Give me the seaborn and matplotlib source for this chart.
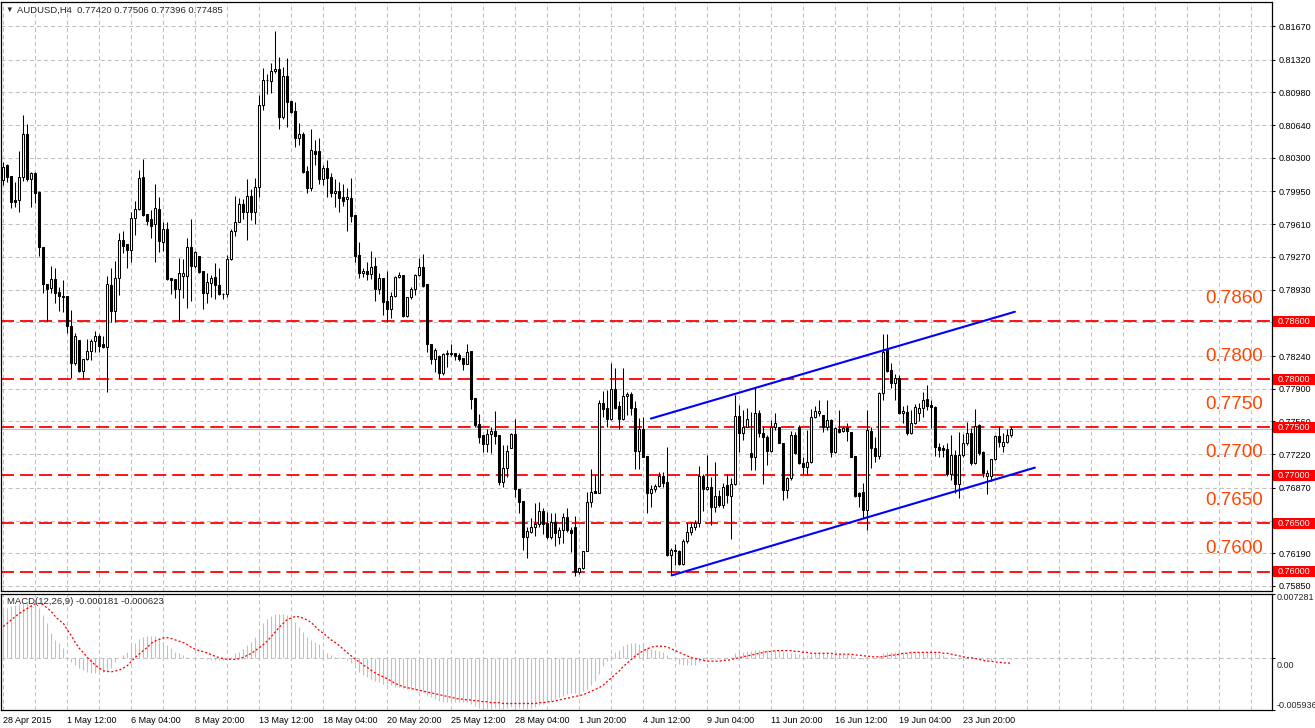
import numpy as np
import matplotlib
matplotlib.use("Agg")
import matplotlib.pyplot as plt
from matplotlib.patches import Rectangle
import seaborn as sns

# AUDUSD H4, one entry per bar, first bar 28 Apr 2015 20:00
opens = [
    0.8007, 0.8023, 0.8011, 0.7986, 0.7986, 0.8010, 0.8055, 0.8008, 0.8014, 0.7994,
    0.7937, 0.7899, 0.7895, 0.7904, 0.7891, 0.7886, 0.7886, 0.7855, 0.7817, 0.7841,
    0.7808, 0.7821, 0.7829, 0.7840, 0.7845, 0.7836, 0.7833, 0.7898, 0.7871, 0.7905,
    0.7945, 0.7940, 0.7934, 0.7967, 0.7977, 0.8010, 0.7972, 0.7966, 0.7961, 0.7977,
    0.7942, 0.7956, 0.7905, 0.7904, 0.7894, 0.7907, 0.7907, 0.7937, 0.7918, 0.7928,
    0.7912, 0.7889, 0.7900, 0.7906, 0.7898, 0.7888, 0.7888, 0.7925, 0.7954, 0.7963,
    0.7982, 0.7974, 0.7990, 0.7974, 0.8000, 0.8085, 0.8111, 0.8110, 0.8120, 0.8122,
    0.8072, 0.8115, 0.8089, 0.8079, 0.8051, 0.8055, 0.8016, 0.7999, 0.8037, 0.8037,
    0.8008, 0.8019, 0.8010, 0.7993, 0.7995, 0.7989, 0.7987, 0.7988, 0.7971, 0.7929,
    0.7910, 0.7912, 0.7909, 0.7918, 0.7894, 0.7905, 0.7881, 0.7873, 0.7886, 0.7906,
    0.7908, 0.7866, 0.7885, 0.7894, 0.7908, 0.7917, 0.7899, 0.7836, 0.7821, 0.7824,
    0.7806, 0.7826, 0.7826, 0.7827, 0.7825, 0.7822, 0.7816, 0.7829, 0.7780, 0.7753,
    0.7742, 0.7733, 0.7743, 0.7746, 0.7742, 0.7693, 0.7708, 0.7728, 0.7743, 0.7686,
    0.7673, 0.7636, 0.7641, 0.7646, 0.7649, 0.7663, 0.7650, 0.7636, 0.7651, 0.7636,
    0.7643, 0.7657, 0.7643, 0.7646, 0.7600, 0.7604, 0.7621, 0.7672, 0.7684, 0.7682,
    0.7775, 0.7770, 0.7759, 0.7790, 0.7772, 0.7759, 0.7782, 0.7785, 0.7770, 0.7725,
    0.7748, 0.7720, 0.7682, 0.7686, 0.7689, 0.7699, 0.7693, 0.7617, 0.7622, 0.7621,
    0.7608, 0.7632, 0.7641, 0.7646, 0.7650, 0.7699, 0.7686, 0.7688, 0.7667, 0.7679,
    0.7669, 0.7690, 0.7679, 0.7691, 0.7762, 0.7744, 0.7750, 0.7723, 0.7719, 0.7765,
    0.7744, 0.7740, 0.7725, 0.7750, 0.7750, 0.7734, 0.7685, 0.7697, 0.7742, 0.7750,
    0.7713, 0.7709, 0.7714, 0.7761, 0.7765, 0.7763, 0.7750, 0.7757, 0.7724, 0.7748,
    0.7746, 0.7750, 0.7745, 0.7720, 0.7682, 0.7683, 0.7664, 0.7746, 0.7728, 0.7720,
    0.7786, 0.7830, 0.7809, 0.7796, 0.7801, 0.7765, 0.7766, 0.7744, 0.7754, 0.7765,
    0.7770, 0.7779, 0.7773, 0.7771, 0.7729, 0.7728, 0.7727, 0.7701, 0.7721, 0.7691,
    0.7721, 0.7734, 0.7744, 0.7713, 0.7752, 0.7724, 0.7699, 0.7699, 0.7717, 0.7741,
    0.7731, 0.7735, 0.77420,
]
highs = [
    0.8026, 0.8024, 0.8011, 0.8005, 0.8037, 0.8074, 0.8065, 0.8015, 0.8015, 0.7995,
    0.7937, 0.7899, 0.7918, 0.7915, 0.7896, 0.7903, 0.7886, 0.7872, 0.7848, 0.7841,
    0.7821, 0.7842, 0.7842, 0.7850, 0.7847, 0.7845, 0.7907, 0.7916, 0.7923, 0.7952,
    0.7954, 0.7940, 0.7974, 0.7985, 0.8017, 0.8029, 0.7972, 0.7976, 0.8003, 0.7989,
    0.7963, 0.7963, 0.7905, 0.7904, 0.7926, 0.7925, 0.7947, 0.7966, 0.7933, 0.7928,
    0.7912, 0.7910, 0.7908, 0.7921, 0.7915, 0.7889, 0.7929, 0.7956, 0.7990, 0.7988,
    0.7987, 0.8008, 0.7998, 0.8009, 0.8095, 0.8123, 0.8117, 0.8129, 0.8162, 0.8135,
    0.8124, 0.8134, 0.8089, 0.8088, 0.8066, 0.8057, 0.8021, 0.8060, 0.8049, 0.8051,
    0.8023, 0.8028, 0.8014, 0.8008, 0.8005, 0.8003, 0.7999, 0.8009, 0.7971, 0.7942,
    0.7915, 0.7922, 0.7933, 0.7927, 0.7910, 0.7905, 0.7912, 0.7891, 0.7907, 0.7911,
    0.7908, 0.7885, 0.7896, 0.7909, 0.7926, 0.7930, 0.7899, 0.7836, 0.7832, 0.7825,
    0.7827, 0.7830, 0.7837, 0.7827, 0.7827, 0.7822, 0.7837, 0.7829, 0.7780, 0.7764,
    0.7742, 0.7748, 0.7750, 0.7767, 0.7742, 0.7732, 0.7732, 0.7744, 0.7759, 0.7686,
    0.7673, 0.7646, 0.7656, 0.7671, 0.7672, 0.7666, 0.7662, 0.7661, 0.7661, 0.7646,
    0.7661, 0.7666, 0.7646, 0.7658, 0.7604, 0.7621, 0.7683, 0.7707, 0.7700, 0.7778,
    0.7788, 0.7789, 0.7817, 0.7812, 0.7777, 0.7812, 0.7787, 0.7787, 0.7777, 0.7760,
    0.7761, 0.7720, 0.7690, 0.7691, 0.7703, 0.7703, 0.7729, 0.7624, 0.7629, 0.7622,
    0.7634, 0.7650, 0.7651, 0.7654, 0.7710, 0.7701, 0.7721, 0.7698, 0.7714, 0.7685,
    0.7692, 0.7701, 0.7697, 0.7783, 0.7773, 0.7768, 0.7770, 0.7766, 0.7791, 0.7768,
    0.7750, 0.7742, 0.7757, 0.7765, 0.7750, 0.7734, 0.7698, 0.7746, 0.7745, 0.7752,
    0.7719, 0.7747, 0.7769, 0.7772, 0.7778, 0.7763, 0.7778, 0.7759, 0.7750, 0.7768,
    0.7751, 0.7754, 0.7745, 0.7720, 0.7683, 0.7692, 0.7768, 0.7750, 0.7740, 0.7787,
    0.7847, 0.7847, 0.7817, 0.7805, 0.7804, 0.7772, 0.7773, 0.7768, 0.7774, 0.7775,
    0.7787, 0.7794, 0.7778, 0.7772, 0.7734, 0.7732, 0.7734, 0.7742, 0.7726, 0.7745,
    0.7743, 0.7755, 0.7749, 0.7769, 0.7753, 0.7725, 0.7706, 0.7717, 0.7742, 0.7750,
    0.7744, 0.7748, 0.77506,
]
lows = [
    0.8002, 0.8005, 0.7978, 0.7979, 0.7974, 0.8006, 0.8006, 0.7979, 0.7983, 0.7928,
    0.7889, 0.7860, 0.7889, 0.7879, 0.7871, 0.7870, 0.7848, 0.7801, 0.7815, 0.7807,
    0.7800, 0.7820, 0.7820, 0.7828, 0.7828, 0.7832, 0.7787, 0.7859, 0.7859, 0.7887,
    0.7931, 0.7915, 0.7922, 0.7950, 0.7976, 0.7970, 0.7960, 0.7947, 0.7922, 0.7932,
    0.7933, 0.7903, 0.7888, 0.7884, 0.7860, 0.7884, 0.7874, 0.7881, 0.7915, 0.7910,
    0.7873, 0.7879, 0.7885, 0.7883, 0.7887, 0.7883, 0.7885, 0.7924, 0.7949, 0.7963,
    0.7966, 0.7945, 0.7965, 0.7961, 0.7989, 0.8080, 0.8096, 0.8097, 0.8118, 0.8060,
    0.8070, 0.8062, 0.8077, 0.8041, 0.8043, 0.8014, 0.7993, 0.7995, 0.8023, 0.8003,
    0.8002, 0.7989, 0.7989, 0.7979, 0.7974, 0.7980, 0.7954, 0.7963, 0.7922, 0.7905,
    0.7906, 0.7903, 0.7904, 0.7881, 0.7888, 0.7867, 0.7859, 0.7864, 0.7885, 0.7905,
    0.7865, 0.7865, 0.7883, 0.7887, 0.7907, 0.7896, 0.7828, 0.7816, 0.7807, 0.7801,
    0.7804, 0.7813, 0.7824, 0.7820, 0.7819, 0.7810, 0.7816, 0.7769, 0.7750, 0.7734,
    0.7724, 0.7724, 0.7723, 0.7733, 0.7690, 0.7688, 0.7698, 0.7728, 0.7677, 0.7661,
    0.7622, 0.7614, 0.7640, 0.7637, 0.7646, 0.7639, 0.7634, 0.7634, 0.7627, 0.7629,
    0.7630, 0.7641, 0.7620, 0.7595, 0.7597, 0.7603, 0.7621, 0.7667, 0.7682, 0.7682,
    0.7761, 0.7750, 0.7757, 0.7769, 0.7748, 0.7757, 0.7763, 0.7763, 0.7707, 0.7707,
    0.7719, 0.7661, 0.7667, 0.7683, 0.7688, 0.7688, 0.7616, 0.7596, 0.7607, 0.7607,
    0.7607, 0.7630, 0.7638, 0.7643, 0.7646, 0.7663, 0.7685, 0.7648, 0.7662, 0.7667,
    0.7666, 0.7671, 0.7634, 0.7690, 0.7724, 0.7737, 0.7750, 0.7706, 0.7706, 0.7740,
    0.7691, 0.7711, 0.7724, 0.7747, 0.7734, 0.7674, 0.7676, 0.7695, 0.7722, 0.7712,
    0.7701, 0.7700, 0.7713, 0.7760, 0.7762, 0.7745, 0.7747, 0.7719, 0.7723, 0.7744,
    0.7745, 0.7736, 0.7719, 0.7677, 0.7667, 0.7656, 0.7643, 0.7708, 0.7714, 0.7717,
    0.7778, 0.7807, 0.7791, 0.7778, 0.7764, 0.7754, 0.7742, 0.7743, 0.7753, 0.7756,
    0.7761, 0.7768, 0.7749, 0.7720, 0.7719, 0.7719, 0.7699, 0.7695, 0.7682, 0.7676,
    0.7719, 0.7732, 0.7711, 0.7712, 0.7721, 0.7698, 0.7681, 0.7694, 0.7716, 0.7729,
    0.7724, 0.7734, 0.77396,
]
closes = [
    0.8020, 0.8010, 0.7984, 0.7984, 0.8010, 0.8055, 0.8008, 0.8014, 0.7993, 0.7937,
    0.7899, 0.7894, 0.7904, 0.7889, 0.7886, 0.7885, 0.7855, 0.7817, 0.7845, 0.7808,
    0.7821, 0.7829, 0.7840, 0.7845, 0.7834, 0.7833, 0.7899, 0.7871, 0.7905, 0.7945,
    0.7938, 0.7934, 0.7967, 0.7977, 0.8009, 0.7971, 0.7964, 0.7959, 0.7978, 0.7944,
    0.7956, 0.7904, 0.7903, 0.7894, 0.7910, 0.7910, 0.7937, 0.7918, 0.7932, 0.7911,
    0.7889, 0.7901, 0.7905, 0.7898, 0.7888, 0.7888, 0.7925, 0.7954, 0.7963, 0.7982,
    0.7974, 0.7990, 0.7974, 0.8000, 0.8085, 0.8111, 0.8111, 0.8120, 0.8122, 0.8072,
    0.8115, 0.8088, 0.8078, 0.8051, 0.8055, 0.8015, 0.7999, 0.8038, 0.8034, 0.8008,
    0.8019, 0.8009, 0.7993, 0.7995, 0.7988, 0.7985, 0.7989, 0.7970, 0.7928, 0.7910,
    0.7912, 0.7909, 0.7917, 0.7894, 0.7905, 0.7880, 0.7873, 0.7886, 0.7906, 0.7908,
    0.7866, 0.7885, 0.7894, 0.7908, 0.7917, 0.7897, 0.7836, 0.7821, 0.7830, 0.7806,
    0.7826, 0.7827, 0.7827, 0.7824, 0.7821, 0.7816, 0.7828, 0.7779, 0.7752, 0.7740,
    0.7733, 0.7743, 0.7746, 0.7741, 0.7693, 0.7708, 0.7725, 0.7743, 0.7686, 0.7672,
    0.7636, 0.7642, 0.7646, 0.7649, 0.7663, 0.7649, 0.7636, 0.7651, 0.7640, 0.7643,
    0.7657, 0.7643, 0.7640, 0.7600, 0.7604, 0.7621, 0.7672, 0.7683, 0.7682, 0.7775,
    0.7769, 0.7759, 0.7790, 0.7770, 0.7759, 0.7782, 0.7785, 0.7770, 0.7725, 0.7748,
    0.7719, 0.7682, 0.7686, 0.7689, 0.7699, 0.7692, 0.7617, 0.7622, 0.7621, 0.7608,
    0.7632, 0.7641, 0.7646, 0.7650, 0.7699, 0.7686, 0.7688, 0.7667, 0.7679, 0.7669,
    0.7688, 0.7680, 0.7691, 0.7762, 0.7744, 0.7750, 0.7759, 0.7719, 0.7765, 0.7744,
    0.7740, 0.7725, 0.7750, 0.7754, 0.7734, 0.7685, 0.7697, 0.7742, 0.7723, 0.7713,
    0.7709, 0.7714, 0.7761, 0.7767, 0.7767, 0.7750, 0.7757, 0.7724, 0.7749, 0.7745,
    0.7749, 0.7746, 0.7719, 0.7679, 0.7679, 0.7664, 0.7747, 0.7728, 0.7720, 0.7786,
    0.7828, 0.7808, 0.7796, 0.7801, 0.7765, 0.7767, 0.7744, 0.7754, 0.7771, 0.7770,
    0.7778, 0.7772, 0.7771, 0.7729, 0.7726, 0.7726, 0.7701, 0.7721, 0.7691, 0.7721,
    0.7734, 0.7744, 0.7713, 0.7751, 0.7723, 0.7702, 0.7702, 0.7717, 0.7741, 0.7735,
    0.7735, 0.7742, 0.77485,
]

# MACD(12,26,9): main (histogram) and signal, one value per bar
macd_main = [
    0.00551, 0.00562, 0.00581, 0.00600, 0.00612, 0.00619, 0.00619, 0.00612, 0.00600, 0.00562,
    0.00486, 0.00391, 0.00277, 0.00201, 0.00163, 0.00106, 0.00011, -0.00046, -0.00084, -0.00122,
    -0.00141, -0.00160, -0.00179, -0.00179, -0.00171, -0.00160, -0.00141, -0.00122, -0.00046, 0.00000,
    0.00030, 0.00068, 0.00144, 0.00163, 0.00209, 0.00239, 0.00247, 0.00247, 0.00247, 0.00220,
    0.00182, 0.00144, 0.00106, 0.00068, 0.00049, 0.00030, 0.00011, 0.00000, -0.00008, -0.00008,
    -0.00008, -0.00019, -0.00027, -0.00027, -0.00027, -0.00027, -0.00008, 0.00011, 0.00049, 0.00068,
    0.00095, 0.00144, 0.00182, 0.00239, 0.00315, 0.00391, 0.00437, 0.00475, 0.00498, 0.00498,
    0.00498, 0.00486, 0.00460, 0.00410, 0.00353, 0.00296, 0.00239, 0.00201, 0.00182, 0.00156,
    0.00087, 0.00049, 0.00030, 0.00011, 0.00011, 0.00000, -0.00027, -0.00057, -0.00122, -0.00160,
    -0.00198, -0.00224, -0.00243, -0.00262, -0.00281, -0.00293, -0.00304, -0.00312, -0.00331, -0.00331,
    -0.0034, -0.0035, -0.0036, -0.0037, -0.0038, -0.0039, -0.0042, -0.0045, -0.0047, -0.0049,
    -0.0050, -0.0050, -0.0050, -0.0050, -0.0050, -0.0050, -0.0050, -0.0052, -0.0055, -0.0057,
    -0.0058, -0.0058, -0.0058, -0.0057, -0.0058, -0.0058, -0.0057, -0.0056, -0.0057, -0.0057,
    -0.0058, -0.0058, -0.0057, -0.0056, -0.0054, -0.0052, -0.0050, -0.0049, -0.0047, -0.0045,
    -0.0043, -0.0041, -0.0040, -0.0040, -0.0040, -0.0038, -0.0035, -0.0031, -0.0027, -0.0018,
    -0.0010, -0.0004, 0.0003, 0.0006, 0.0009, 0.0013, 0.0016, 0.0017, 0.0017, 0.0016,
    0.0015, 0.0012, 0.0010, 0.0009, 0.0008, 0.0007, 0.0003, -0.0001, -0.0004, -0.0007,
    -0.0008, -0.0008, -0.0008, -0.0008, -0.0005, -0.0004, -0.0002, -0.0002, -0.0001, 0.0000,
    0.0000, 0.0001, 0.0001, 0.0005, 0.0006, 0.0007, 0.0008, 0.0008, 0.0009, 0.0009,
    0.0009, 0.0009, 0.0009, 0.0009, 0.0008, 0.0006, 0.0005, 0.0005, 0.0005, 0.0004,
    0.0003, 0.0003, 0.0004, 0.0005, 0.0005, 0.0005, 0.0005, 0.0004, 0.0004, 0.0004,
    0.0004, 0.0004, 0.0003, 0.0001, -0.0001, -0.0002, 0.0000, 0.0000, 0.0000, 0.0002,
    0.0005, 0.0006, 0.0007, 0.0007, 0.0007, 0.0007, 0.0006, 0.0006, 0.0006, 0.0006,
    0.0007, 0.0007, 0.0007, 0.0005, 0.0004, 0.0003, 0.0001, 0.0001, -0.0001, -0.0001,
    -0.0001, 0.0000, -0.0001, 0.0000, -0.0001, -0.0002, -0.0003, -0.0003, -0.0003, -0.0002,
    -0.0002, -0.0002, -0.000181,
]
macd_signal = [
    0.00353, 0.00391, 0.00429, 0.00467, 0.00502, 0.00532, 0.00559, 0.00585, 0.00612, 0.00616,
    0.00600, 0.00562, 0.00524, 0.00467, 0.00422, 0.00391, 0.00315, 0.00251, 0.00171, 0.00106,
    0.00057, 0.00004, -0.00042, -0.00084, -0.00118, -0.00148, -0.00156, -0.00160, -0.00152, -0.00141,
    -0.00118, -0.00091, -0.00042, 0.00004, 0.00042, 0.00080, 0.00118, 0.00163, 0.00190, 0.00209,
    0.00224, 0.00228, 0.00217, 0.00201, 0.00186, 0.00171, 0.00148, 0.00118, 0.00095, 0.00080,
    0.00068, 0.00053, 0.00034, 0.00015, 0.00000, -0.00011, -0.00019, -0.00019, -0.00019, -0.00011,
    0.00004, 0.00027, 0.00049, 0.00080, 0.00114, 0.00148, 0.00190, 0.00239, 0.00293, 0.00346,
    0.00391, 0.00433, 0.00452, 0.00467, 0.00464, 0.00448, 0.00426, 0.00399, 0.00353, 0.00308,
    0.00277, 0.00239, 0.00201, 0.00171, 0.00137, 0.00095, 0.00057, 0.00019, -0.00019, -0.00046,
    -0.00084, -0.00110, -0.00144, -0.00175, -0.00198, -0.00217, -0.00239, -0.00266, -0.00293, -0.00312,
    -0.0033, -0.0034, -0.0035, -0.0036, -0.0037, -0.0038, -0.0039, -0.0040, -0.0041, -0.0042,
    -0.0043, -0.0044, -0.0045, -0.0046, -0.0047, -0.0047, -0.0048, -0.0048, -0.0049, -0.0049,
    -0.0050, -0.0050, -0.0051, -0.0051, -0.0051, -0.0052, -0.0052, -0.0052, -0.0052, -0.0052,
    -0.0052, -0.0052, -0.0052, -0.0052, -0.0051, -0.0051, -0.0050, -0.0050, -0.0049, -0.0048,
    -0.0047, -0.0046, -0.0045, -0.0044, -0.0043, -0.0042, -0.0040, -0.0038, -0.0036, -0.0034,
    -0.0031, -0.0027, -0.0023, -0.0019, -0.0015, -0.0010, -0.0006, -0.0002, 0.0002, 0.0005,
    0.0008, 0.0010, 0.0012, 0.0013, 0.0013, 0.0013, 0.0012, 0.0010, 0.0008, 0.0006,
    0.0004, 0.0002, 0.0000, -0.0001, -0.0002, -0.0003, -0.0004, -0.0004, -0.0004, -0.0004,
    -0.0003, -0.0003, -0.0002, -0.0001, 0.0000, 0.0001, 0.0002, 0.0003, 0.0004, 0.0005,
    0.0006, 0.0007, 0.0007, 0.0008, 0.0008, 0.0008, 0.0008, 0.0008, 0.0007, 0.0007,
    0.0006, 0.0006, 0.0005, 0.0005, 0.0005, 0.0005, 0.0005, 0.0005, 0.0004, 0.0004,
    0.0004, 0.0004, 0.0004, 0.0003, 0.0003, 0.0002, 0.0002, 0.0001, 0.0001, 0.0001,
    0.0001, 0.0002, 0.0003, 0.0003, 0.0004, 0.0005, 0.0005, 0.0006, 0.0006, 0.0006,
    0.0006, 0.0006, 0.0006, 0.0006, 0.0006, 0.0005, 0.0005, 0.0004, 0.0003, 0.0002,
    0.0001, 0.0000, 0.0000, -0.0001, -0.0002, -0.0003, -0.0004, -0.0004, -0.0005, -0.0005,
    -0.0006, -0.0006, -0.000623,
]

date_labels = ["28 Apr 2015", "1 May 12:00", "6 May 04:00", "8 May 20:00", "13 May 12:00",
               "18 May 04:00", "20 May 20:00", "25 May 12:00", "28 May 04:00", "1 Jun 20:00",
               "4 Jun 12:00", "9 Jun 04:00", "11 Jun 20:00", "16 Jun 12:00", "19 Jun 04:00",
               "23 Jun 20:00"]
price_labels = ["0.81670", "0.81320", "0.80980", "0.80640", "0.80300", "0.79950", "0.79610",
                "0.79270", "0.78930", "0.78590", "0.78240", "0.77900", "0.77560", "0.77220",
                "0.76870", "0.76530", "0.76190", "0.75850"]
levels = [0.7860, 0.7800, 0.7750, 0.7700, 0.7650, 0.7600]
level_labels = ["0.7860", "0.7800", "0.7750", "0.7700", "0.7650", "0.7600"]
bid = 0.77485
# channel trend lines: (bar, price) anchors
chan_top_bars, chan_top_prices = [161.9, 252.9], [0.7759, 0.7870]
chan_bot_bars, chan_bot_prices = [167.1, 257.9], [0.7596, 0.7708]

W, H = 1315, 728
PX = 0.00010393  # price per pixel in the main window

sns.set_theme(style="white")
plt.rcParams["font.family"] = ["Liberation Sans", "DejaVu Sans"]
plt.rcParams["lines.scale_dashes"] = False

fig = plt.figure(figsize=(W / 100, H / 100), dpi=100)
fig.patch.set_facecolor("white")


def fx(px):
    return px / W


def fy(py):
    return 1 - py / H


ax = fig.add_axes([fx(1), fy(590.5), 1271 / W, 589 / H])
mac = fig.add_axes([fx(1), fy(710), 1271 / W, 116.5 / H])

n = len(closes)
bars = np.arange(n)
xlim = ((1 - 3.3) / 4, (1272 - 3.3) / 4)
grid_kw = dict(color="#c0c0c0", linewidth=0.75, linestyle=(0, (2.9, 2.2)))

# ---- main window
ax.set_xlim(*xlim)
ax.set_ylim(0.81670 - (590.5 - 26) * PX, 0.81670 + (26 - 1.5) * PX)
ax.set_facecolor("white")
ax.set_axisbelow(True)
ax.set_xticks(np.arange(0, 320, 8))
ax.set_yticks([float(s) for s in price_labels])
ax.set_yticklabels(price_labels)
ax.grid(True, axis="both", **grid_kw)
ax.yaxis.tick_right()
ax.tick_params(axis="x", length=0, labelbottom=False)
ax.tick_params(axis="y", direction="out", length=2.2, width=0.75, color="black",
               labelsize=6.5, pad=2.5, labelcolor="black")
for sp in ax.spines.values():
    sp.set_color("black")
    sp.set_linewidth(0.9)

ax.axhline(bid, color="#c0c0c0", lw=0.75, zorder=1.6)
for lv in levels:
    ax.axhline(lv, color="#ff0000", lw=1.3, linestyle=(0, (9.4, 4.3)), zorder=1.7)

o = np.array(opens)
c = np.array(closes)
up = c >= o
ax.vlines(bars, lows, highs, colors="black", linewidth=0.75, zorder=3)
ax.bar(bars, np.abs(c - o), bottom=np.minimum(o, c), width=0.5,
       color=np.where(up, "white", "black"), edgecolor="black", linewidth=0.75, zorder=4)

ax.plot(chan_top_bars, chan_top_prices, color="blue", lw=1.5, zorder=5)
ax.plot(chan_bot_bars, chan_bot_prices, color="blue", lw=1.5, zorder=5)

ytr = ax.get_yaxis_transform()
for lv, s in zip(levels, level_labels):
    ax.text((1263 - 1) / 1271, lv + 23 * PX, s, transform=ytr, ha="right", va="center",
            color="#ff4500", fontsize=13.5, zorder=6)
    ax.add_patch(Rectangle(((1273 - 1) / 1271, lv - 5.5 * PX), 42 / 1271, 11 * PX,
                           transform=ytr, facecolor="red", edgecolor="none",
                           clip_on=False, zorder=8))
    ax.text((1294 - 1) / 1271, lv, "%.5f" % lv, transform=ytr, ha="center", va="center",
            color="white", fontsize=6.5, clip_on=False, zorder=9)

fig.text(fx(5), fy(10), "\u25bc", fontsize=5.5, va="center", ha="left")
fig.text(fx(17), fy(10), "AUDUSD,H4  0.77420 0.77506 0.77396 0.77485",
         fontsize=6.8, va="center", ha="left")

# ---- MACD window
mac.set_xlim(*xlim)
mac.set_ylim(-0.005936, 0.007281)
mac.set_facecolor("white")
mac.set_axisbelow(True)
mac.vlines(bars, 0, macd_main, colors="#c0c0c0", linewidth=0.8, zorder=2)
sns.lineplot(x=bars, y=macd_signal, ax=mac, color="red", linewidth=0.9, zorder=3)
mac.lines[-1].set_linestyle((0, (1.5, 1.5)))
mac.set_xlabel("")
mac.set_ylabel("")
mac.axhline(0, zorder=1, **grid_kw)
mac.set_xticks(np.arange(0, n, 16))
mac.set_xticklabels(date_labels)
mac.set_xticks(np.arange(0, 320, 8), minor=True)
mac.grid(True, axis="x", which="both", **grid_kw)
mac.tick_params(axis="x", which="major", direction="out", length=2.2, width=0.75,
                color="black", labelsize=6.5, pad=2, labelcolor="black")
mac.tick_params(axis="x", which="minor", length=0)
for lbl in mac.get_xticklabels():
    lbl.set_ha("left")
mac.yaxis.tick_right()
mac.set_yticks([0.007281, 0.0, -0.005936])
mac.tick_params(axis="y", direction="out", length=2.2, width=0.75, color="black",
                labelright=False)
for sp in mac.spines.values():
    sp.set_color("black")
    sp.set_linewidth(0.9)

for txt, py in [("0.007281", 598), ("0.00", 666), ("-0.005936", 705)]:
    fig.text(fx(1277), fy(py), txt, fontsize=6.5, va="center", ha="left")
fig.text(fx(7), fy(601), "MACD(12,26,9) -0.000181 -0.000623", fontsize=6.8,
         va="center", ha="left")

fig.savefig("out.png", dpi=100)
